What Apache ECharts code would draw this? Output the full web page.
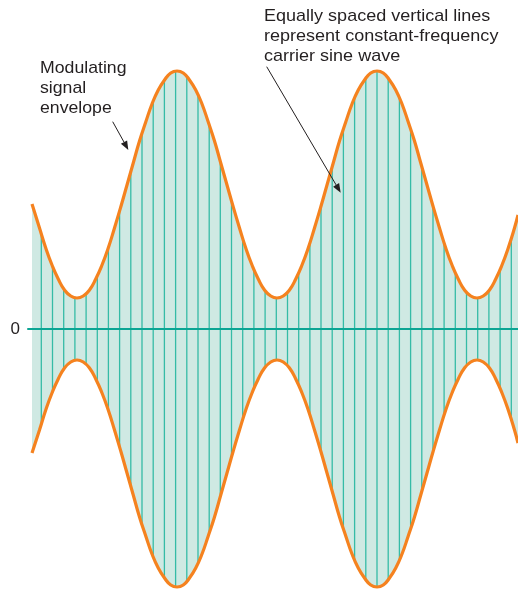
<!DOCTYPE html>
<html>
<head>
<meta charset="utf-8">
<script src="https://cdn.jsdelivr.net/npm/echarts@6/dist/echarts.min.js"></script>
<style>html,body{margin:0;padding:0;background:#fff}#c{width:518px;height:590px}</style>
</head>
<body>
<div id="c"></div>
<script>
// Envelope sample positions (x units) and amplitudes
var envX = [4, 11.5, 17.75, 24, 30.25, 36.5, 42.75, 49, 55.25, 61.5, 67.75, 74, 80.25, 86.5, 92.75, 99, 105.25, 111.5, 117.75, 124, 130.25, 136.5, 142.75, 149, 155.25, 161.5, 167.75, 174, 180.25, 186.5, 192.75, 199, 205.25, 211.5, 217.75, 224, 230.25, 236.5, 242.75, 249, 255.25, 261.5, 267.75, 274, 280.25, 286.5, 292.75, 299, 305.25, 311.5, 317.75, 324, 330.25, 336.5, 342.75, 349, 355.25, 361.5, 367.75, 374, 380.25, 386.5, 392.75, 399, 405.25, 411.5, 417.75, 424, 430.25, 436.5, 442.75, 449, 455.25, 461.5, 467.75, 474, 480.25, 486.5, 490];
var envUpper = [125, 101, 81, 64, 50, 39, 33, 31, 33, 39, 50, 64, 81, 101, 122, 144, 166, 188, 207, 225, 239, 249, 256, 258, 256, 249, 239, 225, 207, 188, 166, 144, 122, 101, 81, 64, 50, 39, 33, 31, 33, 39, 50, 64, 81, 101, 122, 144, 166, 188, 207, 225, 239, 249, 256, 258, 256, 249, 239, 225, 207, 188, 166, 144, 122, 101, 81, 64, 50, 39, 33, 31, 33, 39, 50, 64, 81, 101, 114];
var envLower = [-124, -101, -81, -64, -50, -39, -33, -31, -33, -39, -50, -64, -81, -101, -122, -144, -166, -188, -207, -225, -239, -249, -256, -258, -256, -249, -239, -225, -207, -188, -166, -144, -122, -101, -81, -64, -50, -39, -33, -31, -33, -39, -50, -64, -81, -101, -122, -144, -166, -188, -207, -225, -239, -249, -256, -258, -256, -249, -239, -225, -207, -188, -166, -144, -122, -101, -81, -64, -50, -39, -33, -31, -33, -39, -50, -64, -81, -101, -114];
// Carrier (vertical lines) positions and heights
var carrierX = [13.3, 24.5, 35.7, 46.9, 58.1, 69.3, 80.4, 91.6, 102.8, 114.0, 125.2, 136.4, 147.6, 158.8, 170.0, 181.2, 192.3, 203.5, 214.7, 225.9, 237.1, 248.3, 259.5, 270.7, 281.9, 293.0, 304.2, 315.4, 326.6, 337.8, 349.0, 360.2, 371.4, 382.6, 393.8, 405.0, 416.1, 427.3, 438.5, 449.7, 460.9, 472.1, 483.3];
var carrierAmp = [95, 63, 40, 31, 35, 53, 82, 118, 158, 196, 228, 249, 258, 253, 234, 205, 168, 128, 90, 59, 38, 31, 37, 56, 86, 123, 163, 200, 231, 251, 258, 251, 231, 200, 163, 123, 86, 56, 37, 31, 38, 59, 90];
var yTicks = [-258, 0, 258];

var ORANGE = '#f5821f', FILL = '#cfe9e3', LINE = '#35bba6', ZERO = '#0ca594', TXT = '#231f20';
var FONT = '"Liberation Sans", Arial, Helvetica, sans-serif';

function pairs(xs, ys){ return xs.map(function(x,i){ return [x, ys[i]]; }); }
var upperData = pairs(envX, envUpper);
var lowerData = pairs(envX, envLower);
var carrierData = pairs(carrierX, carrierAmp);

var chart = echarts.init(document.getElementById('c'), null, {renderer:'canvas'});
chart.setOption({
  animation: false,
  backgroundColor: '#fff',
  grid: {left: 28, right: 0, top: 71, bottom: 3},
  xAxis: {
    type: 'value', min: 0, max: 490, z: 3,
    axisLine: {show: true, onZero: true, lineStyle: {color: ZERO, width: 2}},
    axisTick: {show: false}, axisLabel: {show: false}, splitLine: {show: false}
  },
  yAxis: {
    type: 'value', min: yTicks[0], max: yTicks[2], interval: 258,
    axisLine: {show: false}, axisTick: {show: false}, splitLine: {show: false},
    axisLabel: {margin: 8, fontSize: 17, fontFamily: FONT, color: TXT,
      formatter: function(v){ return v === 0 ? '0' : ''; }}
  },
  series: [
    {type: 'line', data: upperData, smooth: true, symbol: 'none', z: 1, clip: false,
      lineStyle: {width: 0}, areaStyle: {color: FILL, opacity: 1}},
    {type: 'line', data: lowerData, smooth: true, symbol: 'none', z: 1, clip: false,
      lineStyle: {width: 0}, areaStyle: {color: FILL, opacity: 1}},
    {type: 'custom', z: 2, data: carrierData,
      renderItem: function(params, api){
        var x = api.value(0), a = api.value(1);
        var p1 = api.coord([x, a]), p2 = api.coord([x, -a]);
        return {type: 'line', shape: {x1: p1[0], y1: p1[1], x2: p2[0], y2: p2[1]},
          style: {stroke: LINE, lineWidth: 1.3}};
      }},
    {type: 'line', data: upperData, smooth: true, symbol: 'none', z: 5, clip: false,
      lineStyle: {width: 3.2, color: ORANGE}},
    {type: 'line', data: lowerData, smooth: true, symbol: 'none', z: 5, clip: false,
      lineStyle: {width: 3.2, color: ORANGE}}
  ],
  graphic: [
    {type: 'text', x: 40, y: 58, z: 10, scaleX: 1.04, style: {text: 'Modulating\nsignal\nenvelope', font: '17px ' + FONT, fill: TXT, lineHeight: 20, verticalAlign: 'top'}},
    {type: 'line', z: 10, shape: {x1: 112.7, y1: 121.7, x2: 124, y2: 142.1}, style: {stroke: TXT, lineWidth: 1}},
    {type: 'polygon', z: 10, shape: {points: [[128.3, 150], [120.9, 143.8], [127.1, 140.4]]}, style: {fill: TXT}},
    {type: 'text', x: 264, y: 6, z: 10, scaleX: 1.06, style: {text: 'Equally spaced vertical lines\nrepresent constant-frequency\ncarrier sine wave', font: '17px ' + FONT, fill: TXT, lineHeight: 20, verticalAlign: 'top'}},
    {type: 'line', z: 10, shape: {x1: 266.7, y1: 66.7, x2: 336.1, y2: 184.9}, style: {stroke: TXT, lineWidth: 1}},
    {type: 'polygon', z: 10, shape: {points: [[340.7, 192.7], [333.1, 186.7], [339.1, 183.1]]}, style: {fill: TXT}}
  ]
});
</script>
</body>
</html>
